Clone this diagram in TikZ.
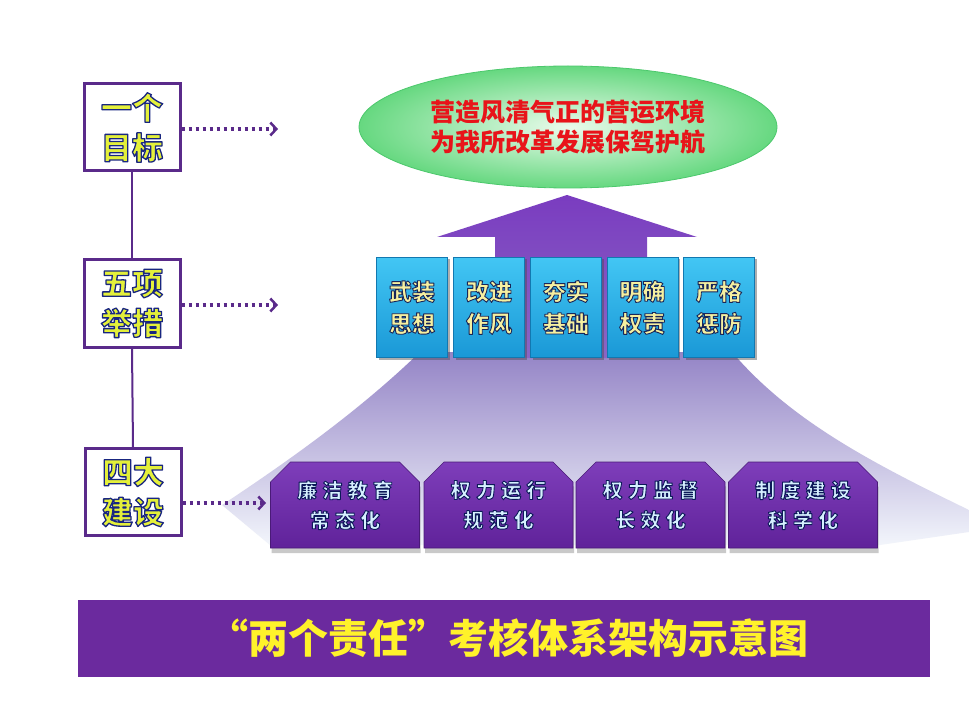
\documentclass[tikz,border=0pt]{standalone}
\usepackage{fontspec}
\newfontfamily\cjk{Noto Sans CJK SC}
\newfontfamily\cjksp{Noto Sans CJK SC}[LetterSpace=26]
\usetikzlibrary{shapes.misc,shapes.geometric,arrows.meta,shadows}
\definecolor{plum}{HTML}{5A2A8A}
\definecolor{lefttxt}{HTML}{E4F03A}
\definecolor{bluetop}{HTML}{42C6F4}
\definecolor{bluebot}{HTML}{1A98D6}
\definecolor{bluebord}{HTML}{1278B0}
\definecolor{bluetxt}{HTML}{F6F0A0}
\definecolor{purtop}{HTML}{7E3EBA}
\definecolor{purbot}{HTML}{60229A}
\definecolor{purbord}{HTML}{4A1A78}
\definecolor{purtxt}{HTML}{D6F0FF}
\definecolor{titlebg}{HTML}{6B2A9E}
\definecolor{titletxt}{HTML}{FFF22A}
\definecolor{ellin}{HTML}{EAFBEC}
\definecolor{ellout}{HTML}{66D880}
\definecolor{ellbord}{HTML}{4CC86C}
\definecolor{goalred}{HTML}{E8141A}
\definecolor{arrtop}{HTML}{7A3CC0}
\definecolor{arrbot}{HTML}{8A66C4}
\definecolor{fantop}{HTML}{9484C6}
\definecolor{fanmid}{HTML}{C0C4E2}
\definecolor{fanbot}{HTML}{F2F5FB}
\newcommand\olon[2]{\special{pdf:literal direct #1 RG #2 w 1 j 2 Tr}}
\newcommand\oloff{\special{pdf:literal direct 0 Tr}}
\begin{document}
\begin{tikzpicture}[x=1pt,y=-1pt,
  levelbox/.style={draw=plum, line width=3pt, fill=white, minimum width=96, minimum height=87,
    inner sep=0, align=center, text=lefttxt, font={\cjk\bfseries\fontsize{31}{40}\selectfont}},
  bluebox/.style={draw=bluebord, line width=0.8pt, top color=bluetop, bottom color=bluebot,
    minimum width=71, minimum height=100, inner sep=0, align=center, text=bluetxt,
    font={\cjk\bfseries\fontsize{23}{32}\selectfont},
    drop shadow={shadow xshift=2pt, shadow yshift=-2pt, fill=black!70, opacity=0.45}},
  purbox/.style={chamfered rectangle, chamfered rectangle corners={north west,north east},
    chamfered rectangle xsep=9pt, chamfered rectangle ysep=11pt,
    draw=purbord, line width=0.6pt, top color=purtop, bottom color=purbot,
    minimum width=149, minimum height=86, inner sep=0, align=center, text=purtxt,
    font={\cjksp\bfseries\fontsize{20}{30}\selectfont},
    drop shadow={shadow xshift=1pt, shadow yshift=-5pt, fill=black!60, opacity=0.35}},
  dotarrow/.style={draw=plum, line width=3.5pt, dash pattern=on 3pt off 4pt,
    -{Straight Barb[length=6pt,width=13pt,line width=2.5pt]}},
  vline/.style={draw=plum, line width=2pt}
]
\useasboundingbox (0,0) rectangle (969,727);
\fill[white] (0,0) rectangle (969,727);

% fan behind the bottom row
\shade[top color=fantop, middle color=fanmid, bottom color=fanbot]
  (420,352) .. controls (360,410) and (290,460) .. (222,505)
  -- (270,545) -- (880,545) -- (969,532) -- (969,510)
  .. controls (870,462) and (790,420) .. (732,352) -- cycle;

% big arrow
\shade[top color=arrtop, bottom color=arrbot]
  (437,237) -- (567,195) -- (697,237) -- (647,237) -- (647,358)
  -- (495,358) -- (495,237) -- cycle;

% goal ellipse
\node[ellipse, minimum width=418, minimum height=122, inner sep=0,
  inner color=ellin, outer color=ellout, draw=ellbord, line width=0.8pt,
  align=center, text=goalred, font={\cjk\bfseries\fontsize{25}{30}\selectfont}]
  (goal) at (568,127) {营造风清气正的营运环境\\为我所改革发展保驾护航};

% five measures
\node[bluebox] (m1) at (412,307.5) {\olon{0.1 0.15 0.35}{0.9}武装\\思想\oloff};
\node[bluebox] (m2) at (489,307.5) {\olon{0.1 0.15 0.35}{0.9}改进\\作风\oloff};
\node[bluebox] (m3) at (566,307.5) {\olon{0.1 0.15 0.35}{0.9}夯实\\基础\oloff};
\node[bluebox] (m4) at (642.5,307.5) {\olon{0.1 0.15 0.35}{0.9}明确\\权责\oloff};
\node[bluebox] (m5) at (719,307.5) {\olon{0.1 0.15 0.35}{0.9}严格\\惩防\oloff};

% four constructions
\node[purbox] (c1) at (345,505) {\olon{0.05 0.1 0.35}{0.9}廉洁教育\\常态化\oloff};
\node[purbox] (c2) at (498.5,505) {\olon{0.05 0.1 0.35}{0.9}权力运行\\规范化\oloff};
\node[purbox] (c3) at (650.5,505) {\olon{0.05 0.1 0.35}{0.9}权力监督\\长效化\oloff};
\node[purbox] (c4) at (803,505) {\olon{0.05 0.1 0.35}{0.9}制度建设\\科学化\oloff};

% level boxes on the left
\node[levelbox] (b1) at (132,127.5) {\olon{0.1 0.15 0.5}{1.3}一个\\目标\oloff};
\node[levelbox] (b2) at (132,303.5) {\olon{0.1 0.15 0.5}{1.3}五项\\举措\oloff};
\node[levelbox] (b3) at (133,492) {\olon{0.1 0.15 0.5}{1.3}四大\\建设\oloff};
\draw[vline] (b1.south) -- (b2.north);
\draw[vline] (b2.south) -- (b3.north);

\coordinate (t1) at (278,129);
\coordinate (t2) at (278,305);
\coordinate (t3) at (266,503);
\draw[dotarrow] (b1.east |- t1) -- (t1);
\draw[dotarrow] (b2.east |- t2) -- (t2);
\draw[dotarrow] (b3.east |- t3) -- (t3);

% title bar
\node[fill=titlebg, minimum width=852, minimum height=77, inner sep=0] (bar) at (504,638.5) {};
\node[text=titletxt, inner sep=0, font={\cjk\bfseries\fontsize{40}{44}\selectfont}]
  (title) at (508,638) {“两个责任”考核体系架构示意图};
\end{tikzpicture}
\end{document}
